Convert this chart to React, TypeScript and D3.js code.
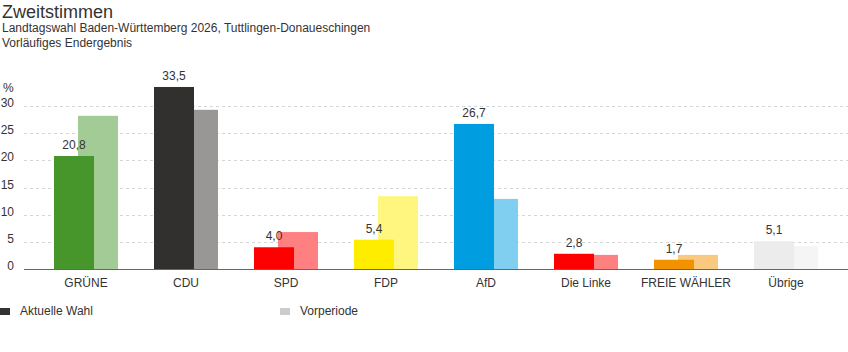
import React, { useEffect, useRef } from 'react';
import * as d3 from 'd3';

const parties = ['GRÜNE', 'CDU', 'SPD', 'FDP', 'AfD', 'Die Linke', 'FREIE WÄHLER', 'Übrige'];
const current = [20.8, 33.5, 4.0, 5.4, 26.7, 2.8, 1.7, 5.1];
const previous = [28.2, 29.3, 6.8, 13.4, 12.9, 2.6, 2.6, 4.2];
const colorsNow = ['#46962b', '#32302e', '#ff0000', '#ffed00', '#009ee0', '#ff0000', '#f39200', '#ececec'];
const colorsPrev = ['#a2cb95', '#999795', '#ff8080', '#fff680', '#80cff0', '#ff8080', '#f9c980', '#f5f5f5'];
const yTicks = [0, 5, 10, 15, 20, 25, 30];

const width = 848;
const height = 352;
const font = '"Liberation Sans", Arial, sans-serif';

export default function App() {
  const ref = useRef<SVGSVGElement>(null);

  useEffect(() => {
    const svg = d3.select(ref.current);
    svg.selectAll('*').remove();

    const x = d3.scaleBand<string>()
      .domain(parties)
      .range([36, 836])
      .paddingInner(0.36)
      .paddingOuter(0.18);
    const y = d3.scaleLinear().domain([0, 30]).range([269, 106]);
    const barW = 40;
    const offset = x.bandwidth() - barW;

    // titles
    svg.append('text').attr('x', 2).attr('y', 18)
      .style('font-size', '18px').style('fill', '#333').text('Zweitstimmen');
    svg.append('text').attr('x', 2).attr('y', 32)
      .style('font-size', '12px').style('fill', '#333')
      .text('Landtagswahl Baden-Württemberg 2026, Tuttlingen-Donaueschingen');
    svg.append('text').attr('x', 2).attr('y', 47)
      .style('font-size', '12px').style('fill', '#333').text('Vorläufiges Endergebnis');

    // grid
    const grid = svg.append('g');
    grid.selectAll('line')
      .data(yTicks.filter(d => d > 0))
      .enter()
      .append('line')
      .attr('x1', 24).attr('x2', width)
      .attr('y1', d => Math.round(y(d)) + 0.5)
      .attr('y2', d => Math.round(y(d)) + 0.5)
      .style('stroke', '#d6d6d6')
      .style('stroke-dasharray', '3,3');

    grid.selectAll('text')
      .data(yTicks)
      .enter()
      .append('text')
      .attr('x', 14)
      .attr('y', d => y(d) + 1)
      .attr('text-anchor', 'end')
      .style('font-size', '12px')
      .style('fill', '#333')
      .text(d => d);

    svg.append('text').attr('x', 3).attr('y', 92)
      .style('font-size', '12px').style('fill', '#333').text('%');

    const idx = parties.map((_, i) => i);

    // previous period bars (behind)
    svg.append('g').selectAll('rect')
      .data(idx)
      .enter()
      .append('rect')
      .attr('x', i => x(parties[i])! + offset)
      .attr('y', i => y(previous[i]))
      .attr('width', barW)
      .attr('height', i => y(0) - y(previous[i]))
      .style('fill', i => colorsPrev[i]);

    // current bars
    svg.append('g').selectAll('rect')
      .data(idx)
      .enter()
      .append('rect')
      .attr('x', i => x(parties[i])!)
      .attr('y', i => y(current[i]))
      .attr('width', barW)
      .attr('height', i => y(0) - y(current[i]))
      .style('fill', i => colorsNow[i]);

    // value labels
    svg.append('g').selectAll('text')
      .data(idx)
      .enter()
      .append('text')
      .attr('x', i => x(parties[i])! + barW / 2)
      .attr('y', i => y(current[i]) - 7)
      .attr('text-anchor', 'middle')
      .style('font-size', '12px')
      .style('fill', '#333')
      .text(i => current[i].toFixed(1).replace('.', ','));

    // baseline
    svg.append('line')
      .attr('x1', 24).attr('x2', width)
      .attr('y1', Math.round(y(0)) + 0.5).attr('y2', Math.round(y(0)) + 0.5)
      .style('stroke', '#666');

    // category labels
    svg.append('g').selectAll('text')
      .data(parties)
      .enter()
      .append('text')
      .attr('x', d => x(d)! + x.bandwidth() / 2)
      .attr('y', 287)
      .attr('text-anchor', 'middle')
      .style('font-size', '12px')
      .style('fill', '#333')
      .text(d => d);

    // legend
    const legend = [
      { label: 'Aktuelle Wahl', color: '#333', x: 0 },
      { label: 'Vorperiode', color: '#ccc', x: 280 },
    ];
    const lg = svg.append('g').selectAll('g')
      .data(legend)
      .enter()
      .append('g');
    lg.append('rect')
      .attr('x', d => d.x).attr('y', 308)
      .attr('width', 10).attr('height', 7)
      .style('fill', d => d.color);
    lg.append('text')
      .attr('x', d => d.x + 20).attr('y', 315)
      .style('font-size', '12px')
      .style('fill', '#333')
      .text(d => d.label);
  }, []);

  return (
    <svg
      ref={ref}
      width={width}
      height={height}
      style={{ position: 'absolute', left: 0, top: 0, fontFamily: font, background: '#fff' }}
    />
  );
}
